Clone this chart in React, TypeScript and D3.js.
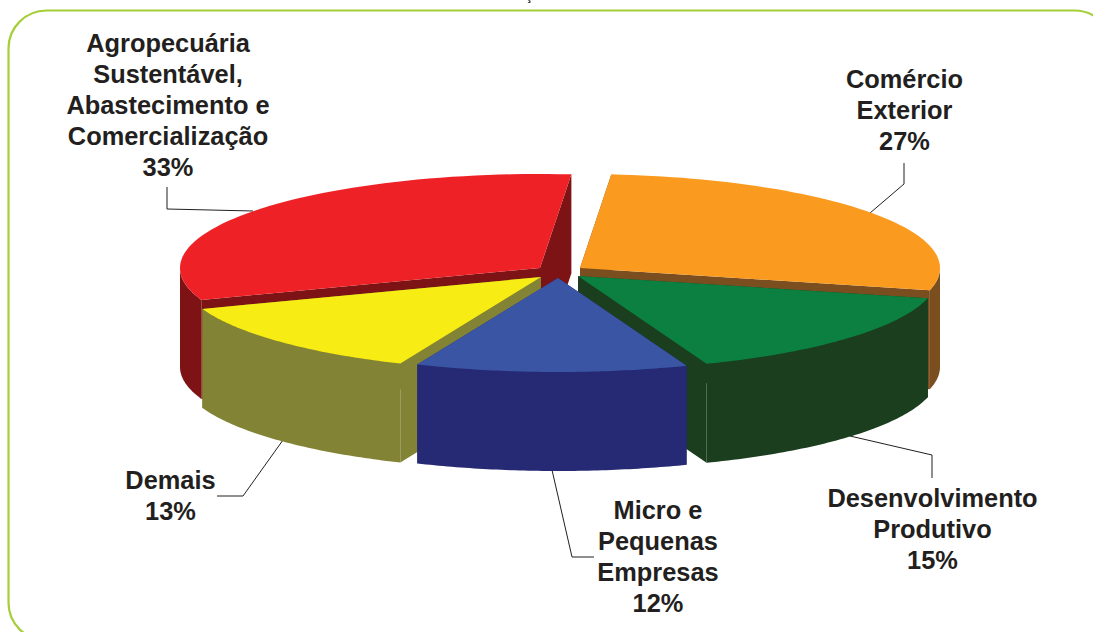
import React from "react";
import * as d3 from "d3";

const categories = ["Comércio Exterior", "Desenvolvimento Produtivo", "Micro e Pequenas Empresas", "Demais", "Agropecuária"];
// angular shares (the printed labels are rounded differently)
const shares = [27.4, 15.4, 12.2, 13.1, 31.9];
const topColors = ["#fa9a1e", "#0b8040", "#3a55a4", "#f7ec13", "#ee2226"];
const sideColors = ["#7b4e20", "#1b3f1e", "#262973", "#838335", "#7d1315"];
// apex of every exploded slice
const apexX = [580, 578, 558, 541, 540];
const apexY = [268, 276, 278, 277, 268];
const drawOrder = [4, 0, 1, 3, 2];

const labels = [
  { lines: ["Agropecuária", "Sustentável,", "Abastecimento e", "Comercialização", "33%"], x: 168, y: 52 },
  { lines: ["Comércio", "Exterior", "27%"], x: 904.5, y: 88 },
  { lines: ["Desenvolvimento", "Produtivo", "15%"], x: 932.5, y: 507 },
  { lines: ["Micro e", "Pequenas", "Empresas", "12%"], x: 658, y: 518.5 },
  { lines: ["Demais", "13%"], x: 170.5, y: 489 },
];

const leaders = [
  [[167, 187], [167, 209], [253, 211]],
  [[904, 163], [904, 184], [870, 213]],
  [[850, 436], [932, 455], [932, 478]],
  [[552, 470], [572, 557], [594, 557]],
  [[283, 440], [243, 496], [217, 496]],
];

const RX = 360;
const RY = 94;
const DEPTH = 99;

const pie = d3.pie<number>().sort(null).startAngle((5 * Math.PI) / 180).endAngle((365 * Math.PI) / 180);
const arcs = pie(shares);

const px = (i: number, a: number) => apexX[i] + RX * Math.sin(a);
const py = (i: number, a: number) => apexY[i] - RY * Math.cos(a);

const topPath = (i: number) => {
  const p = d3.path();
  const { startAngle, endAngle } = arcs[i];
  p.moveTo(apexX[i], apexY[i]);
  p.lineTo(px(i, startAngle), py(i, startAngle));
  d3.range(1, 61).forEach((k) => {
    const a = startAngle + ((endAngle - startAngle) * k) / 60;
    p.lineTo(px(i, a), py(i, a));
  });
  p.closePath();
  return p.toString();
};

const wallPath = (i: number, a: number) => {
  const p = d3.path();
  p.moveTo(apexX[i], apexY[i]);
  p.lineTo(px(i, a), py(i, a));
  p.lineTo(px(i, a), py(i, a) + DEPTH);
  p.lineTo(apexX[i], apexY[i] + DEPTH);
  p.closePath();
  return p.toString();
};

// outer rim, only the part that faces the viewer
const rimPath = (i: number) => {
  const a0 = Math.max(arcs[i].startAngle, Math.PI / 2);
  const a1 = Math.min(arcs[i].endAngle, (3 * Math.PI) / 2);
  if (a1 <= a0) return "";
  const steps = d3.range(0, 61).map((k) => a0 + ((a1 - a0) * k) / 60);
  const line = d3.line<[number, number]>();
  const upper = steps.map((a) => [px(i, a), py(i, a)] as [number, number]);
  const lower = steps.slice().reverse().map((a) => [px(i, a), py(i, a) + DEPTH] as [number, number]);
  return line(upper.concat(lower)) + "Z";
};

export default function App() {
  const leaderLine = d3.line();
  return (
    <svg
      width={1093}
      height={632}
      style={{ position: "absolute", left: 0, top: 0, background: "#fff" }}
      fontFamily="'Liberation Sans', Arial, sans-serif"
    >
      <rect x={8.5} y={10.5} width={1104} height={630} rx={38} ry={38} fill="#fff" stroke="#a6ce39" strokeWidth={2.2} />
      <text x={529} y={0} fontSize={13} fontWeight={700} fill="#231f20" textAnchor="middle">ç</text>

      {leaders.map((l, i) => (
        <path key={i} d={leaderLine(l as [number, number][]) ?? ""} fill="none" stroke="#231f20" strokeWidth={1} />
      ))}

      {drawOrder.map((i) => (
        <g key={categories[i]}>
          <path d={wallPath(i, arcs[i].startAngle)} fill={sideColors[i]} />
          <path d={wallPath(i, arcs[i].endAngle)} fill={sideColors[i]} />
          <path d={rimPath(i)} fill={sideColors[i]} />
          <path d={topPath(i)} fill={topColors[i]} />
        </g>
      ))}

      {labels.map((l) => (
        <text key={l.lines[0]} x={l.x} y={l.y} fontSize={25.4} fontWeight={700} fill="#231f20" textAnchor="middle">
          {l.lines.map((t, k) => (
            <tspan key={t} x={l.x} dy={k === 0 ? 0 : 31}>{t}</tspan>
          ))}
        </text>
      ))}
    </svg>
  );
}
